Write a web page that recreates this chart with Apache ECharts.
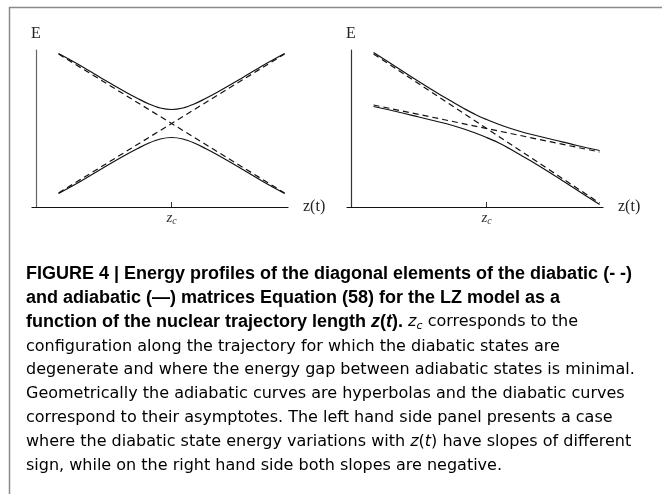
<!DOCTYPE html>
<html>
	<head>
		<meta charset="utf-8">
		<title>LZ energy profiles</title>
	</head>
	<style type="text/css">
		html, body {
			margin: 0;
			padding: 0;
			background: #fff;
		}
		#graphical {
			width: 662px;
			height: 494px;
		}
	</style>
	<body>
		<div id="graphical"></div>
		<script src="https://cdn.jsdelivr.net/npm/echarts@6/dist/echarts.min.js" type="text/javascript" charset="utf-8"></script>
		<script type="text/javascript">
			// sample positions along z(t), z_c sits at 12
			var zSamples = [2, 4, 6, 8, 9, 10, 11, 12, 13, 14, 15, 16, 18, 20, 22];
			var zcValue = 12;
			var diaZ = [2, 22];

			// left panel: slopes of different sign
			var leftUpper = [153.5, 141, 127.5, 114.5, 108.5, 103, 99, 97.5, 99, 103, 108.5, 114.5, 127.5, 141, 153.5];
			var leftLower = [13.5, 26, 39.5, 52.5, 58.5, 64, 68, 69.5, 68, 64, 58.5, 52.5, 39.5, 26, 13.5];
			var leftDiaDown = [153, 14];
			var leftDiaUp = [14, 153];

			// right panel: both slopes negative
			var rightUpper = [154.5, 140, 125.5, 111.5, 105, 98.5, 92.5, 87.5, 83, 79, 75.5, 72.5, 67, 61.5, 56.5];
			var rightLower = [100.5, 95.5, 90, 84.5, 81.5, 78, 74, 69.5, 64.5, 58.5, 52, 45.5, 31.5, 17, 2.5];
			var rightDiaSteep = [153, 4];
			var rightDiaShallow = [102, 55];

			var captionLines = [
				'{b|FIGURE 4 | Energy profiles of the diagonal elements of the diabatic (- -)}',
				'{b|and adiabatic (\u2014) matrices Equation (58) for the LZ model as a}',
				'{b|function of the nuclear trajectory length }{bi|z}{b|(}{bi|t}{b|).}{r| }{i|z}{sub|c}{r| corresponds to the}',
				'{r|configuration along the trajectory for which the diabatic states are}',
				'{r|degenerate and where the energy gap between adiabatic states is minimal.}',
				'{r|Geometrically the adiabatic curves are hyperbolas and the diabatic curves}',
				'{r|correspond to their asymptotes. The left hand side panel presents a case}',
				'{r|where the diabatic state energy variations with }{i|z}{r|(}{i|t}{r|) have slopes of different}',
				'{r|sign, while on the right hand side both slopes are negative.}'
			];

			function pairs(xs, ys) {
				var out = [];
				for (var i = 0; i < xs.length; i++) {
					out.push([xs[i], ys[i]]);
				}
				return out;
			}

			var serif = 'Liberation Serif';
			var boldFont = 'Liberation Sans';
			var textFont = 'DejaVu Sans';

			function makeX(idx) {
				return {
					gridIndex: idx,
					type: 'value',
					min: -0.35,
					max: 22.3,
					name: 'z(t)',
					nameLocation: 'end',
					nameGap: 15,
					nameTextStyle: {
						fontFamily: serif,
						fontSize: 16,
						color: '#222'
					},
					axisLine: {
						onZero: true,
						lineStyle: {
							color: '#111',
							width: 1.2
						}
					},
					axisTick: {
						show: true,
						inside: true,
						length: 5,
						customValues: [zcValue],
						lineStyle: {
							color: '#333'
						}
					},
					axisLabel: {
						show: true,
						customValues: [zcValue],
						margin: 3,
						formatter: function() {
							return '{i|z}{s|c}';
						},
						rich: {
							i: {
								fontFamily: serif,
								fontStyle: 'italic',
								fontSize: 15,
								color: '#333'
							},
							s: {
								fontFamily: serif,
								fontStyle: 'italic',
								fontSize: 10,
								color: '#333',
								padding: [6, 0, 0, 0]
							}
						}
					},
					splitLine: {
						show: false
					}
				};
			}

			function makeY(idx, col) {
				return {
					gridIndex: idx,
					type: 'value',
					min: 0,
					max: 157,
					name: 'E',
					nameLocation: 'end',
					nameGap: 8,
					nameTextStyle: {
						fontFamily: serif,
						fontSize: 16,
						color: '#222',
						align: 'center'
					},
					axisLine: {
						onZero: true,
						lineStyle: {
							color: col,
							width: 1.2
						}
					},
					axisTick: {
						show: false
					},
					axisLabel: {
						show: false
					},
					splitLine: {
						show: false
					}
				};
			}

			function curve(idx, xs, ys, dashed) {
				return {
					type: 'line',
					xAxisIndex: idx,
					yAxisIndex: idx,
					data: pairs(xs, ys),
					showSymbol: false,
					smooth: dashed ? false : 0.35,
					silent: true,
					lineStyle: {
						color: '#111',
						width: 1.2,
						type: dashed ? [6, 4] : 'solid'
					}
				};
			}

			var graphics = [{
				type: 'rect',
				shape: {
					x: 9.5,
					y: 7.5,
					width: 700,
					height: 600
				},
				style: {
					fill: 'none',
					stroke: '#8a8a8a',
					lineWidth: 1.5
				}
			}];
			for (var k = 0; k < captionLines.length; k++) {
				// bold lines and plain lines sit a little differently in their box
				var shift = captionLines[k].indexOf('{b|') === 0 ? 265 : 267;
				graphics.push({
					type: 'text',
					left: 26,
					top: shift + k * 23.8,
					style: {
						text: captionLines[k],
						rich: {
							b: {
								fontFamily: boldFont,
								fontWeight: 'bold',
								fontSize: 18,
								lineHeight: 22,
								color: '#111'
							},
							bi: {
								fontFamily: boldFont,
								fontWeight: 'bold',
								fontStyle: 'italic',
								fontSize: 18,
								lineHeight: 22,
								color: '#111'
							},
							r: {
								fontFamily: textFont,
								fontSize: 16,
								lineHeight: 22,
								color: '#222'
							},
							i: {
								fontFamily: textFont,
								fontStyle: 'italic',
								fontSize: 16,
								lineHeight: 22,
								color: '#222'
							},
							sub: {
								fontFamily: textFont,
								fontStyle: 'italic',
								fontSize: 11,
								lineHeight: 22,
								color: '#222',
								padding: [8, 0, 0, 0]
							}
						}
					}
				});
			}

			var chart = echarts.init(document.getElementById('graphical'));
			var option = {
				animation: false,
				backgroundColor: '#fff',
				grid: [{
					left: 32,
					top: 50,
					width: 256,
					height: 157
				}, {
					left: 347,
					top: 50,
					width: 256,
					height: 157
				}],
				xAxis: [makeX(0), makeX(1)],
				yAxis: [makeY(0, '#666'), makeY(1, '#333')],
				series: [
					curve(0, diaZ, leftDiaDown, true),
					curve(0, diaZ, leftDiaUp, true),
					curve(0, zSamples, leftUpper, false),
					curve(0, zSamples, leftLower, false),
					curve(1, diaZ, rightDiaSteep, true),
					curve(1, diaZ, rightDiaShallow, true),
					curve(1, zSamples, rightUpper, false),
					curve(1, zSamples, rightLower, false)
				],
				graphic: graphics
			};
			chart.setOption(option);
			window.onresize = function() {
				chart.resize();
			}
		</script>
	</body>
</html>
